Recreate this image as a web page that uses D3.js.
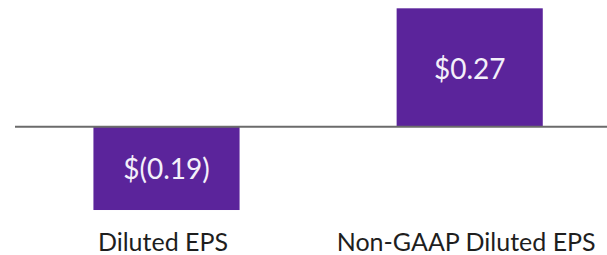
<!DOCTYPE html>
<html><head><meta charset="utf-8">
<script src="https://cdn.jsdelivr.net/npm/d3@7"></script>
<style>html,body{margin:0;padding:0;background:#fff;}svg{display:block;}</style>
</head><body>
<script>
const categories = ["Diluted EPS", "Non-GAAP Diluted EPS"];
const values = [-0.19, 0.27];
const valueLabels = ["$(0.19)", "$0.27"];

const W = 607, H = 255;
const svg = d3.select("body").append("svg").attr("width", W).attr("height", H);

const x = d3.scaleBand().domain(categories).range([14.9, 621.3]).paddingInner(0.518).paddingOuter(0.259);
const y0 = 126.7;
const k = (211.7 - 10) / 0.46;

svg.selectAll("rect.bar").data(values).join("rect")
  .attr("class", "bar")
  .attr("x", (d, i) => x(categories[i]))
  .attr("width", x.bandwidth())
  .attr("y", d => d > 0 ? y0 - d * k : y0)
  .attr("height", d => Math.abs(d) * k)
  .attr("fill", "#5b249b");

svg.append("line").attr("x1", 15).attr("x2", W).attr("y1", y0).attr("y2", y0)
  .attr("stroke", "#6b6b6b").attr("stroke-width", 2);

svg.selectAll("text.val").data(values).join("text")
  .attr("class", "val")
  .attr("x", (d, i) => x(categories[i]) + x.bandwidth() / 2)
  .attr("y", d => (d > 0 ? y0 - d * k / 2 : y0 + Math.abs(d) * k / 2) + 11)
  .attr("text-anchor", "middle")
  .attr("font-family", "Lato, sans-serif")
  .attr("font-size", 28)
  .attr("fill", "#f4f0fa")
  .text((d, i) => valueLabels[i]);

const xAxis = d3.axisBottom(x).tickSize(0).tickPadding(0);
const g = svg.append("g").attr("transform", "translate(-3.5,251)").call(xAxis);
g.select(".domain").remove();
g.selectAll("text").attr("font-family", "Lato, sans-serif").attr("font-size", 25).attr("fill", "#1e1e1e").attr("dy", 0);
</script>
</body></html>
